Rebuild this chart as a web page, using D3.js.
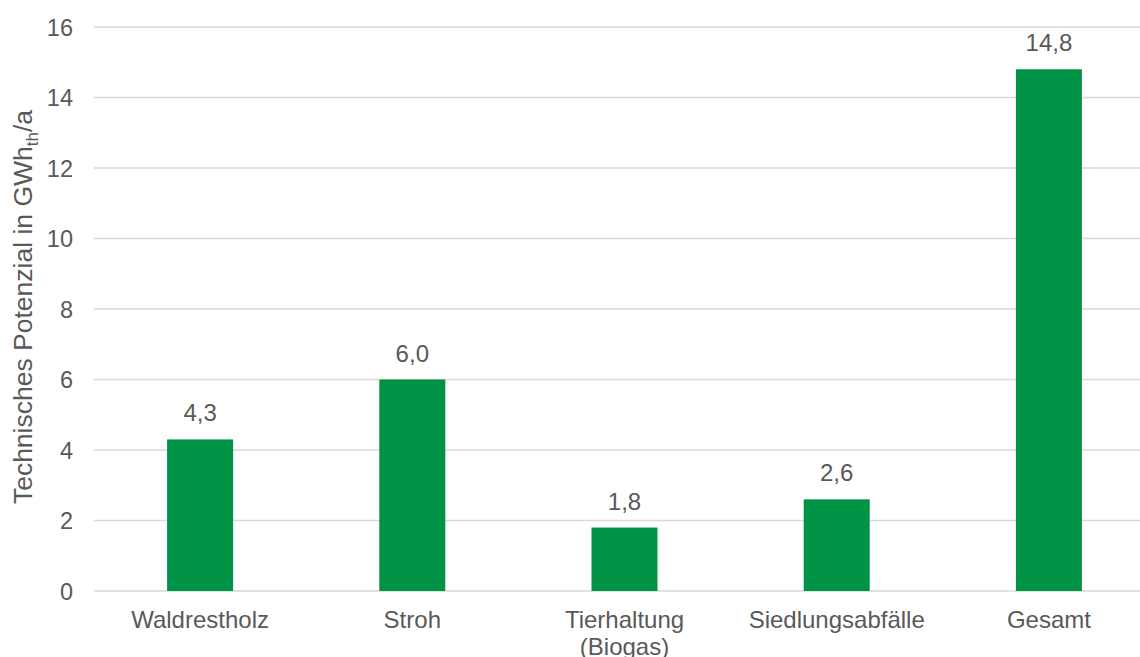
<!DOCTYPE html>
<html><head><meta charset="utf-8">
<script src="https://cdn.jsdelivr.net/npm/d3@7"></script>
<style>body{margin:0;background:#fff}svg{display:block}text{font-family:"Liberation Sans",Arial,sans-serif}</style>
</head><body><svg id="c" width="1140" height="657"></svg>
<script>
const categories = [["Waldrestholz"], ["Stroh"], ["Tierhaltung", "(Biogas)"], ["Siedlungsabfälle"], ["Gesamt"]];
const values = [4.3, 6.0, 1.8, 2.6, 14.8];
const valueLabels = ["4,3", "6,0", "1,8", "2,6", "14,8"];
const yTicks = [0, 2, 4, 6, 8, 10, 12, 14, 16];

const svg = d3.select("#c");
const x = d3.scaleBand().domain(d3.range(categories.length)).range([94, 1155]).paddingInner(0.689).paddingOuter(0.3445);
const y = d3.scaleLinear().domain([0, 16]).range([591, 27]);
const textColor = "#595959";

// grid
svg.append("g").selectAll("line").data(yTicks).join("line")
  .attr("x1", 94).attr("x2", 1155)
  .attr("y1", d => y(d)).attr("y2", d => y(d))
  .attr("stroke", "#d9d9d9").attr("stroke-width", 1.4);

// y axis labels
const yAxis = d3.axisLeft(y).tickValues(yTicks).tickSize(0).tickPadding(0).tickFormat(d3.format("d"));
const ya = svg.append("g").attr("transform", "translate(73,0)").call(yAxis);
ya.select(".domain").remove();
ya.selectAll("text").attr("fill", textColor).attr("dy", "0.35em").style("font-size", "23.5px").style("font-family", "Liberation Sans, Arial, sans-serif");

// bars
svg.append("g").selectAll("rect").data(values).join("rect")
  .attr("x", (d, i) => x(i)).attr("width", x.bandwidth())
  .attr("y", d => y(d)).attr("height", d => y(0) - y(d))
  .attr("fill", "#009245");

// value labels
svg.append("g").selectAll("text").data(values).join("text")
  .attr("x", (d, i) => x(i) + x.bandwidth() / 2)
  .attr("y", d => y(d) - 18)
  .attr("text-anchor", "middle").attr("fill", textColor).style("font-size", "24px")
  .text((d, i) => valueLabels[i]);

// category labels
const cl = svg.append("g").selectAll("text").data(categories).join("text")
  .attr("x", (d, i) => x(i) + x.bandwidth() / 2)
  .attr("y", 628)
  .attr("text-anchor", "middle").attr("fill", textColor).style("font-size", "24px");
cl.selectAll("tspan").data(d => d).join("tspan")
  .attr("x", function() { return this.parentNode.getAttribute("x"); })
  .attr("dy", (d, j) => j === 0 ? 0 : 27)
  .text(d => d);

// y title
const t = svg.append("text")
  .attr("transform", "translate(32,307) rotate(-90)")
  .attr("text-anchor", "middle").attr("fill", textColor).style("font-size", "26.5px");
t.append("tspan").text("Technisches Potenzial in GWh");
t.append("tspan").attr("dy", 6).style("font-size", "17px").text("th");
t.append("tspan").attr("dy", -6).text("/a");
</script></body></html>
